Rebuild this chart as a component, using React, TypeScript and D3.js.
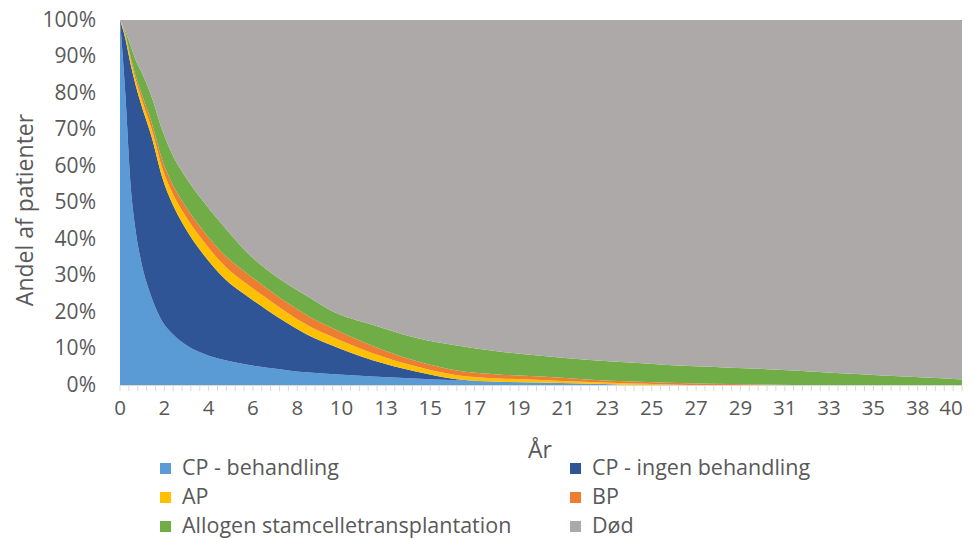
import React from "react";
import * as d3 from "d3";

// Years
const years = [0, 0.25, 0.5, 0.75, 1, 1.5, 2, 2.5, 3, 4, 5, 6, 7, 8, 9, 10, 12, 14, 16, 18, 20, 22, 24, 26, 28, 30, 32, 34, 36, 38, 40];
// Shares (%) per state
const cpBehandling = [100, 80, 55, 42, 34, 24, 17.5, 14, 11.5, 8.5, 6.8, 5.6, 4.7, 4.0, 3.4, 3.0, 2.3, 1.8, 1.3, 0.9, 0.7, 0.4, 0.1, 0, 0, 0, 0, 0, 0, 0, 0];
const cpIngen = [0, 15, 33, 40, 43, 44, 39.5, 35.5, 32.5, 27, 22.2, 18.9, 15.8, 12.8, 10.1, 8.0, 4.5, 2.0, 0.3, 0, 0, 0, 0, 0, 0, 0, 0, 0, 0, 0, 0];
const ap = [0, 0.8, 1.2, 1.5, 1.8, 2.2, 2.6, 3.0, 3.3, 3.6, 3.5, 3.3, 3.1, 2.8, 2.6, 2.4, 1.9, 1.4, 1.1, 0.9, 0.7, 0.5, 0.35, 0.15, 0, 0, 0, 0, 0, 0, 0];
const bp = [0, 0.5, 0.8, 1.1, 1.4, 1.8, 2.1, 2.4, 2.6, 2.8, 2.9, 2.9, 2.8, 2.7, 2.6, 2.4, 2.0, 1.5, 1.3, 1.1, 0.9, 0.7, 0.55, 0.45, 0.35, 0.2, 0, 0, 0, 0, 0];
const allogen = [0, 0.7, 3.0, 4.4, 5.8, 7.0, 8.3, 8.1, 8.1, 8.1, 7.6, 5.8, 5.1, 5.2, 5.3, 4.7, 5.8, 6.3, 6.8, 6.3, 5.7, 5.4, 5.2, 4.9, 4.65, 4.3, 4.0, 3.3, 2.7, 2.1, 1.5];
const dod = [0, 3, 7, 11, 14, 21, 30, 37, 42, 50, 57, 63.5, 68.5, 72.5, 76, 79.5, 83.5, 87, 89.2, 90.8, 92, 93, 93.8, 94.5, 95, 95.5, 96, 96.7, 97.3, 97.9, 98.5];

const seriesNames = ["CP - behandling", "CP - ingen behandling", "AP", "BP", "Allogen stamcelletransplantation", "Død"];
const seriesColors = ["#5B9BD5", "#2F5597", "#FFC000", "#ED7D31", "#70AD47", "#ADA9A9"];
const xTickLabels = ["0", "2", "4", "6", "8", "10", "13", "15", "17", "19", "21", "23", "25", "27", "29", "31", "33", "35", "38", "40"];
const yTicks = [0, 10, 20, 30, 40, 50, 60, 70, 80, 90, 100];

const W = 973;
const H = 540;
const left = 120;
const right = 962;
const top = 20;
const bottom = 385;
const font = "'Open Sans', sans-serif";
const textColor = "#595959";

export default function App() {
  const seriesValues = [cpBehandling, cpIngen, ap, bp, allogen, dod];
  const rows = years.map((t, i) => {
    const r: any = { t };
    seriesNames.forEach((n, k) => (r[n] = seriesValues[k][i]));
    return r;
  });
  const stacked = d3.stack<any>().keys(seriesNames)(rows);
  const x = d3.scaleLinear().domain([0, 40]).range([left, right]);
  const y = d3.scaleLinear().domain([0, 100]).range([bottom, top]);
  const area = d3
    .area<any>()
    .x((d) => x(d.data.t))
    .y0((d) => y(Math.min(100, d[0])))
    .y1((d) => y(Math.min(100, d[1])))
    .curve(d3.curveMonotoneX);

  const nTicks = 95;
  const tickX = d3.scaleLinear().domain([0, nTicks]).range([left, right]);
  const tickIdx = d3.range(nTicks + 1);

  const legendRows = [
    [0, 1],
    [2, 3],
    [4, 5],
  ];
  const legendCols = [160, 570];
  const legendY = [468, 497, 526];

  return (
    <svg width={W} height={H} style={{ position: "absolute", left: 0, top: 0, background: "#fff" }} fontFamily={font}>
      {stacked.map((s, k) => (
        <path key={k} d={area(s) || ""} fill={seriesColors[k]} />
      ))}
      <line x1={left} x2={right} y1={bottom + 0.5} y2={bottom + 0.5} stroke="#D9D9D9" />
      {tickIdx.map((i) => (
        <line key={i} x1={tickX(i)} x2={tickX(i)} y1={bottom} y2={bottom + 6} stroke="#D9D9D9" strokeWidth={1} />
      ))}
      {xTickLabels.map((lab, j) => {
        let cx = tickX(j * 5);
        if (cx > W - 22) cx = W - 22;
        return (
          <text key={lab + j} x={cx} y={410} textAnchor="middle" dominantBaseline="middle" fontSize={20.5} fill={textColor}>
            {lab}
          </text>
        );
      })}
      {yTicks.map((v) => (
        <text key={v} x={96} y={y(v) + 1} textAnchor="end" dominantBaseline="middle" fontSize={21} fill={textColor}>
          {v}%
        </text>
      ))}
      <text x={540} y={452} textAnchor="middle" dominantBaseline="middle" fontSize={23} fill={textColor}>
        År
      </text>
      <text
        transform={`translate(27,210) rotate(-90)`}
        textAnchor="middle"
        dominantBaseline="middle"
        fontSize={23}
        fill={textColor}
      >
        Andel af patienter
      </text>
      {legendRows.map((row, ri) =>
        row.map((k, ci) => (
          <g key={k} transform={`translate(${legendCols[ci]},${legendY[ri]})`}>
            <rect x={0} y={-5} width={11} height={11} fill={seriesColors[k]} />
            <text x={22} y={1} dominantBaseline="middle" fontSize={21.5} fill={textColor}>
              {seriesNames[k]}
            </text>
          </g>
        ))
      )}
    </svg>
  );
}
